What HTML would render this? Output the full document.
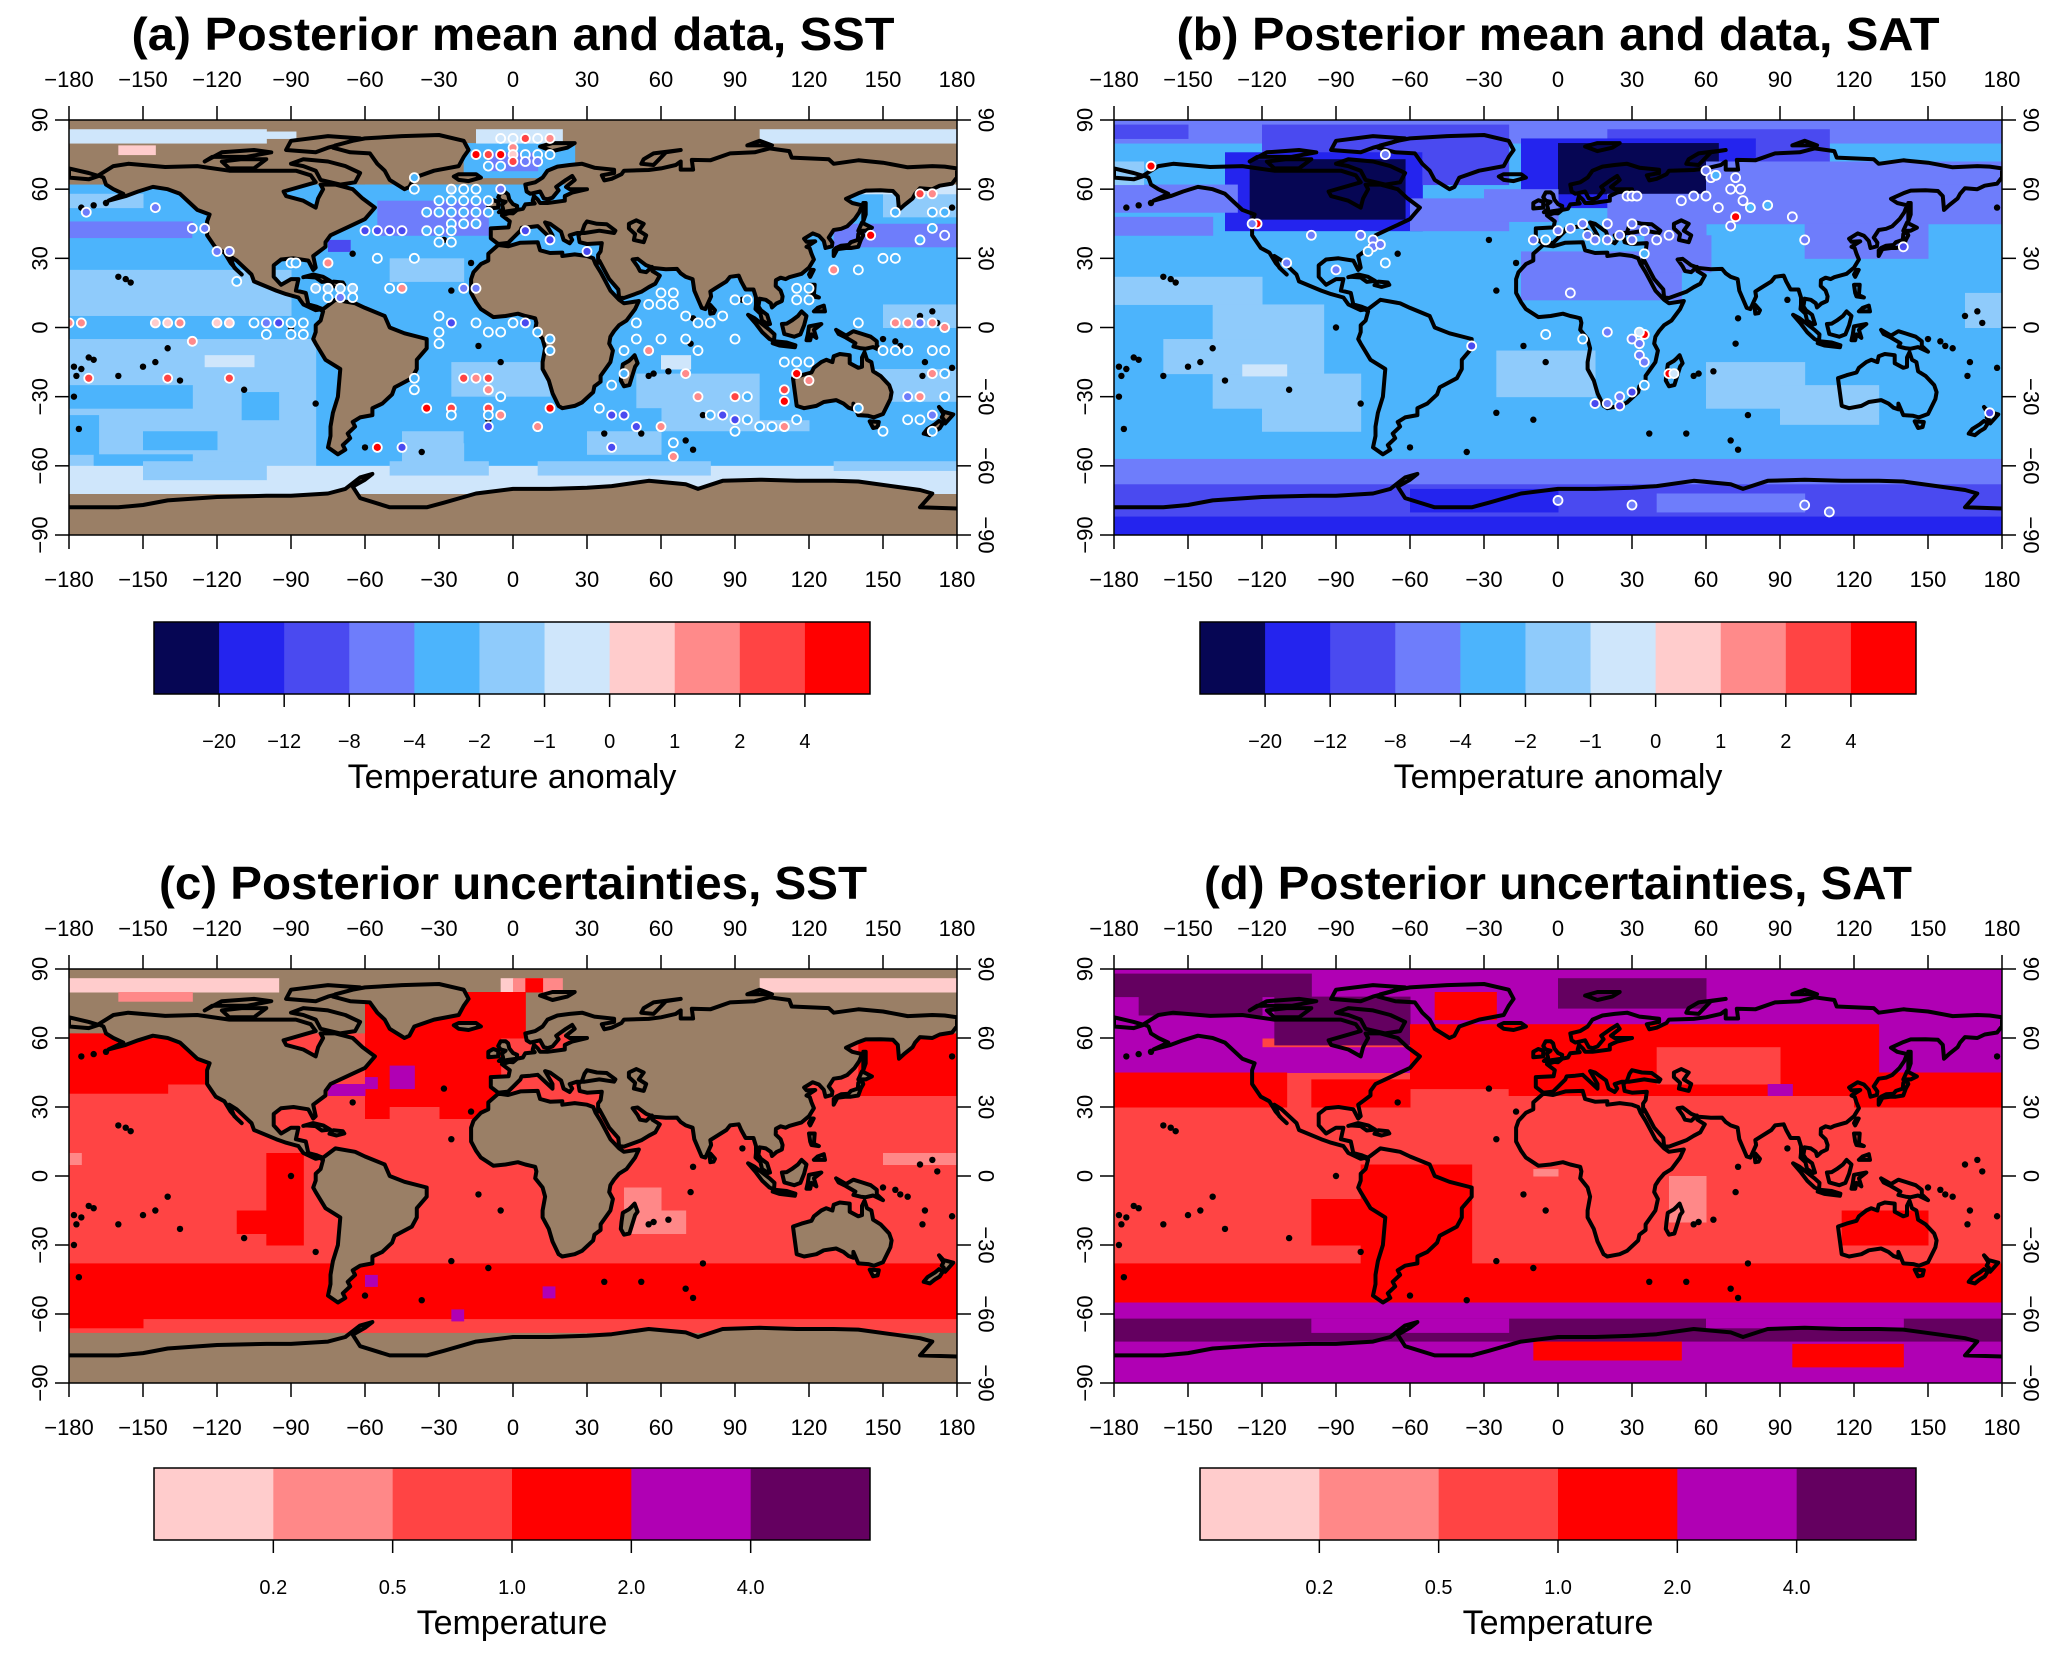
<!DOCTYPE html>
<html>
<head>
<meta charset="utf-8">
<style>
html,body{margin:0;padding:0;background:#fff;}
svg{display:block;}
text{font-family:"Liberation Sans",Arial,sans-serif;fill:#000;}
</style>
</head>
<body>
<svg id="fig" xmlns="http://www.w3.org/2000/svg" width="2067" height="1657" viewBox="0 0 2067 1657"></svg>
<script>
// ---------- axis tick data ----------
const lonTicks = [-180,-150,-120,-90,-60,-30,0,30,60,90,120,150,180];
const latTicks = [-90,-60,-30,0,30,60,90];
const anomLabels = ["−20","−12","−8","−4","−2","−1","0","1","2","4"];
const uncLabels = ["0.2","0.5","1.0","2.0","4.0"];

// ---------- field data: [lon0, lon1, latTop, latBot, class]  ('L' = land/no data) ----------
const fieldA = [
[-180,180,90,-90,'L'],[-180,180,62,-68,4],
[-180,-100,86,80,6],[-100,-88,85,82,6],[100,180,86,80,6],[-160,-145,79,75,7],
[-20,25,80,65,4],[-10,10,76,68,3],[-15,20,86,80,6],
[-180,-150,58,52,5],[-180,-130,46,39,3],[-130,-120,45,38,4],[-180,-140,32,25,4],
[-180,-90,25,5,5],[-180,-80,5,-5,4],[-180,-80,-5,-60,5],[-125,-105,-12,-17,6],
[-180,-130,-25,-35,4],[-180,-168,-38,-55,4],[-150,-120,-45,-53,4],[-110,-95,-28,-40,4],[-170,-130,-55,-60,4],
[-180,180,-60,-72,6],[-150,-100,-58,-66,5],[-50,-10,-58,-64,5],[10,80,-58,-64,5],[130,180,-58,-62,5],
[-60,-5,62,25,4],[-55,-10,55,40,3],[-75,-66,38,33,2],[-50,-20,30,20,5],
[-40,20,5,-15,4],[-25,15,-15,-30,5],[-55,20,-30,-45,4],[-45,-20,-45,-58,5],[-20,20,-42,-50,4],
[30,120,25,-20,4],[50,120,-20,-45,5],[60,72,-12,-18,6],[60,130,-45,-55,4],[25,60,-35,-45,4],[30,60,-45,-55,5],
[100,180,30,-40,4],[150,180,10,0,5],[125,180,-18,-32,5],[130,180,45,35,3],[150,180,58,48,5],[140,180,62,58,6]
];
const fieldB = [
[-180,180,90,-90,4],[-180,180,90,80,3],
[-120,-20,88,76,2],[20,110,86,68,2],[-180,-150,88,82,2],
[-135,-55,76,42,1],[-125,-62,73,47,0],[-55,-20,82,62,2],
[-15,80,82,52,1],[0,65,80,58,0],
[60,180,72,45,3],[20,60,58,40,3],[100,150,45,30,3],
[-180,-130,62,50,3],[140,180,62,50,3],[-180,-168,72,62,5],
[-60,-20,56,42,3],[-30,0,60,46,3],[-15,50,33,12,3],[35,62,40,24,3],
[-180,-140,48,40,3],[-180,-120,22,10,5],[-140,-95,10,-35,5],[-120,-80,-20,-45,5],[-160,-120,-5,-20,5],[-128,-110,-16,-21,6],
[-25,15,-10,-30,5],[60,100,-15,-35,5],[90,130,-25,-42,5],[165,180,15,0,5],
[-180,180,-57,-70,3],[-180,180,-68,-90,2],[-180,180,-82,-90,1],[-60,0,-70,-80,1],[40,100,-72,-80,3]
];
const fieldC = [
[-180,180,90,-90,'L'],[-180,180,62,-68,2],
[-180,-95,86,80,0],[100,180,86,80,0],[-160,-130,80,76,1],[-5,0,86,80,0],[0,20,86,80,1],[5,12,86,80,3],
[-180,-120,62,40,3],[-180,-140,40,36,3],[140,180,62,35,3],
[-60,-5,75,25,3],[-20,5,80,60,3],[-50,-30,30,22,2],
[-75,-60,40,35,4],[-50,-40,48,38,4],[-60,-55,43,38,4],
[-100,-85,10,-30,3],[-112,-100,-15,-25,3],
[-180,180,-38,-62,3],[-180,-150,-60,-66,3],[-60,-55,-43,-48,4],[-25,-20,-58,-63,4],[12,17,-48,-53,4],
[45,60,-5,-25,1],[55,70,-15,-25,1],[150,180,10,5,1],[-180,-175,10,5,1]
];
const fieldD = [
[-180,180,90,-90,2],
[-180,180,90,60,4],[-180,-100,88,78,5],[-115,-60,78,57,5],[0,60,86,73,5],[-170,-120,78,70,5],
[-50,-25,80,68,3],
[-180,-120,62,45,4],[120,180,62,45,4],[-120,-50,56,45,4],
[-180,-110,45,30,3],[-100,-60,42,30,3],[-20,130,66,35,3],[-60,-20,66,38,3],[120,180,45,30,3],
[40,90,56,40,2],[85,95,40,35,4],
[-80,-35,5,-40,3],[-100,-75,-10,-30,3],[115,150,-15,-30,3],
[45,60,0,-20,1],[-10,0,3,0,1],
[-180,180,-38,-55,3],[-180,180,-55,-62,4],[-180,180,-62,-72,5],[-100,-20,-62,-68,4],[60,140,-62,-66,4],
[-180,180,-72,-90,4],[-10,50,-72,-80,3],[95,140,-73,-83,3]
];

// ---------- observation points: [lon, lat, class] ----------
const ptsA = [
[-40,65,4],[-40,60,4],[-25,60,5],[-20,60,4],[-15,60,4],[-5,60,3],[-30,55,4],[-25,55,4],[-20,55,4],[-15,55,4],[-10,55,4],
[-35,50,4],[-30,50,4],[-25,50,4],[-20,50,4],[-15,50,4],[-10,50,4],[-25,45,4],[-20,45,4],[-15,45,4],
[-60,42,2],[-55,42,2],[-50,42,2],[-45,42,2],[-35,42,4],[-30,42,4],[-25,42,4],[5,42,2],[15,38,2],[30,33,2],[-30,37,4],[-25,37,4],
[-5,82,6],[0,82,6],[5,82,9],[10,82,6],[15,82,8],[0,78,8],[-5,75,10],[-10,75,9],[0,75,7],[5,75,4],[10,75,4],[15,75,4],[-15,75,10],[0,72,9],[5,72,3],[10,72,3],[-5,70,4],[-10,70,4],
[-173,50,3],[-145,52,3],[-125,43,3],[-130,43,3],[-120,33,3],[-115,33,3],[-112,20,4],
[-90,28,4],[-88,28,4],[-75,28,8],[-55,30,4],[-40,30,4],[-80,17,5],[-75,17,5],[-70,17,5],[-65,17,5],[-75,13,4],[-70,13,3],[-65,13,4],[-50,17,4],[-45,17,8],[-20,17,3],[-15,17,3],
[-180,2,8],[-175,2,8],[-145,2,7],[-140,2,7],[-135,2,8],[-120,2,7],[-115,2,7],[-105,2,4],[-100,2,3],[-95,2,2],[-90,2,4],[-85,2,4],[-100,-3,4],[-90,-3,4],[-85,-3,4],[-130,-6,8],[-140,-22,9],[-115,-22,9],[-172,-22,9],
[-30,5,4],[-30,-2,4],[-30,-7,4],[-25,2,2],[-15,2,4],[-10,-2,4],[-5,-2,4],[0,2,4],[5,2,2],[10,-2,4],[15,-5,4],[15,-10,4],
[-40,-22,4],[-40,-27,4],[-20,-22,9],[-15,-22,8],[-10,-22,9],[-10,-27,8],[-5,-30,4],[-10,-35,9],[-25,-35,9],[-35,-35,10],[-25,-38,4],[-5,-38,8],[-10,-38,4],[10,-43,8],[15,-35,10],[-10,-43,2],[-55,-52,10],[-45,-52,2],
[45,-10,4],[50,-5,4],[50,2,4],[55,10,4],[60,10,4],[65,10,4],[60,15,4],[65,15,4],[70,5,4],[75,2,4],[80,2,4],[85,5,4],[90,12,4],[95,12,4],[90,-5,4],[60,-5,4],[70,-5,4],[75,-10,4],[55,-10,8],[70,-20,8],
[40,-25,4],[45,-20,4],[35,-35,4],[40,-38,2],[45,-38,2],[50,-43,2],[60,-43,8],[75,-30,8],[90,-30,9],[95,-30,4],[80,-38,4],[85,-38,2],[90,-40,2],[95,-40,4],[100,-43,4],[105,-43,4],[110,-43,8],[90,-45,4],[65,-50,4],[40,-52,2],[65,-56,8],
[115,12,4],[120,12,4],[115,17,4],[120,17,4],[130,25,8],[140,25,4],[150,30,4],[155,30,4],[145,40,10],[155,50,4],[170,50,4],[175,50,4],[165,58,9],[170,58,8],[175,40,3],[170,43,4],[165,38,4],
[140,2,4],[155,2,8],[160,2,8],[165,2,3],[170,2,8],[175,0,8],[150,-10,4],[155,-10,4],[160,-10,4],[170,-10,4],[175,-10,4],
[110,-15,4],[115,-15,4],[120,-15,4],[110,-27,9],[110,-32,10],[115,-40,4],[140,-35,4],[150,-45,4],[160,-40,4],[165,-40,4],[170,-45,4],[165,-30,8],[160,-30,3],[175,-30,4],[170,-38,3],[175,-20,4],[170,-20,8],[120,-23,8],[115,-20,10]
];
const ptsB = [
[-165,70,10],[-122,45,10],[-124,45,3],[-80,40,3],[-75,38,3],[-75,35,3],[-77,33,4],[-72,36,3],[-100,40,3],[-110,28,3],[-90,25,3],[-70,28,4],[-70,75,3],
[-10,38,3],[-5,38,4],[0,42,3],[5,43,3],[10,45,3],[12,40,3],[15,38,3],[20,38,3],[25,40,3],[30,45,3],[35,42,3],[30,38,3],[35,32,4],[40,38,3],[20,45,3],[45,40,3],
[28,57,3],[30,57,3],[32,57,3],[50,55,3],[55,57,3],[60,57,3],[65,52,3],[70,60,3],[74,60,3],[72,65,3],[60,68,3],[62,65,3],[64,66,4],[75,55,3],[78,52,4],[72,48,10],[70,44,3],[85,53,4],[95,48,3],[100,38,3],[140,35,2],
[5,15,3],[-5,-3,4],[10,-5,4],[20,-2,3],[30,-5,3],[35,-3,10],[33,-2,6],[33,-7,3],[33,-12,3],[35,-15,3],
[15,-33,2],[20,-33,3],[25,-34,2],[25,-30,3],[30,-28,2],[35,-25,4],[45,-20,10],[47,-20,6],[-35,-8,2],
[0,-75,3],[30,-77,3],[100,-77,3],[110,-80,3],[175,-37,2]
];
const islands = [
[-157,21],[-155,19.5],[-160,22],[-150,-17],[-145,-15],[-140,-9],[-135,-23],[-160,-21],[-170,-14],[-175,-18],[-178,-17],[178,-17.5],
[167,-15],[166,-21],[160,-9],[157,-8],[155,-6],[150,-5],[165,5],[170,7],[172,2],[-177,-21],[-172,-13],[-109,-27],[-80,-33],[-90,0],
[-25,-37],[-14,-8],[-5,-15],[-10,-40],[-25,16],[-17,28],[-28,38],[-65,32],[37,-46],[52,-46],[70,-49],[73,-53],[77,-38],[55,-21],
[57,-20],[63,-19],[72,-7],[73,4],[93,12],[-175,52],[-170,53],[-165,54],[178,52],[-178,-30],[-176,-44],[-60,-52],[-37,-54]
];

// ---------- coastlines [lon,lat] ----------
const coasts = {
namerica:[[-168,66],[-162,70],[-156,71],[-141,69.6],[-128,70],[-115,68],[-95,68],[-88,68],[-82,66],[-80,63],[-93,59],[-92,57],[-85,55],[-80,52],[-79,56],[-77,60],[-78,62],[-72,62],[-65,60],[-61,56],[-56,52],[-60,47],[-66,44],[-70,42],[-74,40],[-76,37],[-76,35],[-81,31],[-80,26],[-81,25],[-83,29],[-89,30],[-94,29.5],[-97,27],[-97,22],[-94,18.5],[-90,21],[-87,21],[-88,16],[-84,15],[-83,10],[-79.5,9],[-77.5,8],[-80,7.5],[-85,10],[-87,13],[-92,14.5],[-96,16],[-105,20],[-106,23],[-112,29],[-115,31],[-113,26],[-110,23],[-112,25],[-114.5,28],[-117,32.5],[-120.5,34.5],[-124,40],[-124,46],[-123,49],[-128,51],[-131,54],[-135,58],[-140,60],[-146,61],[-152,59],[-157,57],[-164,55],[-158,58],[-162,60],[-165,62],[-166,65]],
baffin:[[-62,67],[-68,70],[-75,72],[-85,73],[-90,71],[-85,70],[-80,68],[-78,64],[-70,62],[-64,63]],
victoria:[[-118,72],[-110,73],[-100,73],[-105,69],[-115,69]],
parry:[[-125,72],[-118,76],[-105,77],[-98,76],[-108,74],[-122,74]],
ellesmere:[[-92,77],[-80,76],[-75,78],[-68,80],[-62,82],[-75,83],[-90,81]],
greenland:[[-73,78],[-66,76],[-58,75.5],[-55,71],[-52,68],[-50,64],[-44,60],[-42,61],[-40,65],[-32,68],[-22,70],[-20,74],[-18,77],[-20,81],[-30,83.5],[-45,83],[-60,82],[-65,81],[-72,79]],
iceland:[[-24,65.5],[-22,66.5],[-15,66.5],[-13,65],[-18,63.5],[-22,64]],
samerica:[[-80,9],[-77,8],[-72,12],[-64,10.5],[-60,8.5],[-52,5],[-50,0],[-44,-2.5],[-35,-5],[-35,-9],[-39,-14],[-39,-18],[-41,-22],[-48,-26],[-49,-29],[-53,-33],[-57,-35],[-57,-38],[-62,-39],[-65,-41],[-64,-43],[-67,-46],[-66,-48],[-69,-51],[-68,-53],[-71,-55],[-75,-52],[-74,-47],[-74,-43],[-73,-37],[-71,-30],[-70,-18],[-76,-14],[-80,-7],[-81,-5],[-80,-2],[-80,1],[-78,3],[-77,7]],
africa:[[-6,35.8],[-10,32],[-10,29],[-13,27.5],[-16,24],[-17,21],[-17,15],[-15,11],[-13,8],[-8,4.5],[-3,5],[2,6],[5,5],[7,4.5],[9,4],[9.5,2],[9,-1],[12,-5],[13,-9],[12,-15],[12,-18],[14.5,-23],[16,-28.5],[18.5,-34],[20,-35],[25,-34],[28,-32.5],[32.5,-28],[33,-25.5],[35.5,-23.5],[35.5,-21],[39.5,-15],[40.5,-10],[39,-7],[39.5,-4],[41,-1.5],[43,1],[46,3],[49.5,8],[51,11.5],[45,10.5],[43,12],[39.5,16],[37,21],[35.5,24],[33.5,27.5],[32.5,30],[30,31],[25,31.7],[20,31],[20,32.5],[15,32.3],[11,33.5],[10,37],[3,36.8],[-2,35.2]],
eurasia:[[-9,43],[-9,38.7],[-6,36.2],[-2,36.7],[0,38.8],[3,42],[3.5,43.3],[7,43.6],[10,44],[12.5,41.5],[16,38],[16,40],[13,45.6],[15,45],[19.5,41.5],[20.5,38],[23,36.5],[24,38],[23,40],[26,41],[29,41],[35,42],[41,41],[41.5,42],[38,44.8],[34,45],[30,46],[29,44.5],[28,41.5],[26.5,40],[27,37],[30,36.2],[36,36.6],[35.5,33],[34.5,31.5],[34.5,28],[35,29],[37,25],[39,21],[42.7,16.5],[43,13],[45,12.8],[52,15.5],[55,17.5],[57.7,19],[59.5,22.5],[56.5,24.5],[56.3,26.3],[54,24],[51.5,24.5],[50.5,26.5],[48.5,29.5],[50.5,29.8],[54,27],[57,25.8],[62,25.3],[66.5,25.4],[68,23.5],[70,22],[72.8,21],[73.5,16],[76.5,8.5],[78,8],[80.3,13.5],[80,15.6],[82,17],[86.5,20],[88,22],[91.5,22.5],[92.5,20],[94.3,16.5],[97.5,16.5],[98.5,13],[98.5,10],[98.3,8],[100.3,6],[101,3],[103.5,1.3],[104.2,1.5],[103,5.5],[100.5,7.5],[99.5,9.2],[100,12.5],[102.5,12],[104.5,10.5],[105,8.7],[106.8,10.4],[109,11.5],[109.3,13.5],[108.5,16],[106.5,18],[106.6,20.5],[108.5,21.6],[110.5,21],[112,21.8],[117,23.3],[120,26],[122,29.5],[121,32],[120.3,34.4],[119,35],[122.5,37.4],[119,37.2],[118,38.5],[121.5,40.8],[124,39.8],[126,37.5],[126.7,34.5],[129.3,35.2],[129.5,36.8],[128,39],[130,42.3],[133,42.8],[135.5,43.9],[138.5,47],[140.4,50],[141.5,53],[137.5,54],[135,55.8],[140,58.2],[143,59.4],[149,59.5],[154,59.2],[156,57],[156.5,51],[158.5,53],[162,56],[163,58],[165,60.4],[170,60],[173,61.5],[178,62.4],[179.5,64.5],[180,65],[180,69],[175,69.8],[170,70],[160,69.5],[150,71.5],[140,72.5],[130,71],[128,73],[113,73.7],[112,76.5],[104,77.7],[98,76],[88,75.5],[80,72.5],[72.5,72.7],[73,68.5],[68,68.5],[68,72],[66,70.5],[60,69],[55,68.3],[45,68],[44,66.5],[40,64.5],[37,63.8],[36,66],[41,67],[41,68.4],[33,69.3],[28,71],[23,70.5],[18,69.8],[14,68],[12,65],[9,63],[5,62],[5.5,59],[7,58],[11,59],[12.5,56],[14,55.6],[16,56.3],[18.5,59.5],[17.5,61],[21.5,64],[24,65.7],[25,64],[21.5,61],[23,60],[30,60],[24,58.5],[21,57],[21,55],[14,54],[11,54],[10,55.5],[8.5,57],[8,55],[8.8,53.8],[5,53.4],[4,51.5],[1.7,51],[0,49.5],[-1.5,49.6],[-4.5,48.6],[-1.3,46],[-1.8,43.4]],
caspian:[[47,45],[50,46.5],[53,45],[51,42],[54,40],[53,37],[49,38],[49.5,40.5],[47,43]],
chukotka:[[-180,65],[-172,64.3],[-168,65.7],[-172,67],[-180,69]],
britain:[[-5,50],[1.5,51],[1.7,52.7],[0,53.5],[-1.5,55.5],[-2,57.7],[-3,58.6],[-5,58.6],[-6,56.5],[-5,55],[-3,54.5],[-4.5,53.3],[-4,51.5],[-5.7,50]],
ireland:[[-6,52],[-6,54.5],[-8,55.2],[-10,54],[-10,51.6]],
japan:[[130,31],[131.5,34],[135,34.5],[137,34.5],[140,35],[141,38],[142,40],[141.5,41.5],[140,40.5],[139.8,38],[137,37],[136,35.8],[133,35.5],[131,34.5],[130,33.5]],
hokkaido:[[140,42],[141.5,45.5],[145.5,43.3],[143,42]],
sakhalin:[[142,46],[143,49],[143,54],[142,54],[142,50]],
taiwan:[[120.5,22],[121.9,25],[121,25],[120,23]],
luzon:[[120,18.5],[122.3,18.5],[122,14],[124,13],[121,13.5],[120.5,15]],
mindanao:[[122,7],[126.5,7],[126,9.5],[123.5,8.5]],
borneo:[[109,1.5],[110,-2.8],[114,-4],[116.5,-3],[118,1],[119,5],[117,7],[115.5,5],[113,3],[111,1.7]],
sumatra:[[95.3,5.5],[98,4],[104,-1],[106,-3],[105.8,-5.9],[104,-5],[101,-2],[98.5,1.5]],
java:[[105.3,-6.8],[106,-6],[111,-6.5],[114.5,-7.7],[114.3,-8.6],[108,-7.8]],
sulawesi:[[119,-5.5],[120.5,-5.5],[121,-3],[123,-4.5],[122,-1],[125,1.5],[120,0.5],[119.5,-3]],
newguinea:[[131,-1],[135,-3.5],[138,-1.6],[141,-2.6],[145,-4],[147.5,-6],[147.5,-8],[150,-10.5],[146,-8.5],[143,-9.2],[141,-9],[138,-8.2],[138.8,-6.8],[135,-4.4],[132,-2.8]],
australia:[[113.5,-22],[114,-26],[115,-34],[118,-35],[123,-34],[126,-32.3],[131,-31.5],[134,-33],[136,-34.8],[138,-35.5],[138,-33],[140,-38],[144,-38.3],[146.3,-39],[150,-37.5],[153,-31],[153.5,-28],[152.5,-25],[149,-21],[146,-19],[145.3,-15],[143.5,-14],[142.5,-10.7],[141.5,-13],[141.5,-17],[140,-17.5],[136.5,-15.5],[136.5,-12],[132.5,-11.5],[130,-12.5],[129.5,-15],[127,-14],[125,-15],[122,-17.5],[121,-19.5],[117,-20.7],[114,-21.8]],
tasmania:[[144.6,-40.7],[148.3,-41],[147.8,-43.2],[146,-43.6]],
nznorth:[[172.7,-34.5],[174.5,-36.5],[178.5,-37.7],[177,-39.5],[175.2,-41.6],[174.6,-39.8],[173.8,-39],[174.5,-37.5]],
nzsouth:[[172.7,-40.5],[174.3,-41.5],[173,-43.7],[171,-45],[169,-46.7],[166.5,-46],[168,-44],[171,-42]],
madagascar:[[49.3,-12],[50.5,-15.5],[49.5,-17],[47.2,-25],[45,-25.5],[43.7,-23],[44,-20],[44.5,-16],[47,-14.5],[48,-13.5]],
srilanka:[[80,9.8],[81.9,7.5],[81.3,6.2],[80,6],[79.8,8]],
cuba:[[-85,21.8],[-81,23],[-77,22],[-74.2,20.2],[-77.5,19.8],[-80,21.7],[-84,22]],
hispaniola:[[-74.4,18.4],[-72.8,19.9],[-69,19.5],[-68.4,18.5],[-71.5,17.6]],
svalbard:[[11,78.5],[16,80],[25,80],[22,78],[16,76.5]],
novayazemlya:[[52,71],[57,70.5],[62,76],[68,77],[57,75.5],[53,73]],
severnaya:[[95,79],[100,81],[105,79]],
antarctica:[[-180,-78],[-160,-78],[-150,-77],[-140,-75],[-120,-73.5],[-100,-73],[-90,-73],[-75,-72],[-68,-70],[-62,-65],[-57,-63.5],[-60,-66],[-65,-69],[-62,-74],[-50,-78],[-35,-78],[-28,-76],[-15,-72],[0,-70],[15,-70],[30,-69.5],[40,-68.8],[55,-66.5],[70,-68],[75,-70],[85,-66.5],[100,-66],[115,-66.5],[130,-66.5],[140,-66.8],[155,-69],[165,-70.5],[170,-72],[165,-78],[180,-78.5]]
};

// ---------- styles ----------
const anomPal = ["#060654","#2424ee","#4a4af0","#6e7dfb","#4cb4fc","#8fcbfb","#cfe6fb","#ffcccc","#ff8a8a","#ff4444","#ff0000"];
const uncPal = ["#ffcccc","#ff8888","#ff4444","#ff0000","#b000b4","#640060"];
const LAND = "#9a7f66";

const panels = [
 {key:"a", x0:69,  x1:957,  y0:120, y1:535, field:fieldA, pal:anomPal, sst:true,  pts:ptsA, title:"(a) Posterior mean and data, SST", tw:763},
 {key:"b", x0:1114,x1:2002, y0:120, y1:535, field:fieldB, pal:anomPal, sst:false, pts:ptsB, title:"(b) Posterior mean and data, SAT", tw:763},
 {key:"c", x0:69,  x1:957,  y0:969, y1:1383,field:fieldC, pal:uncPal,  sst:true,  pts:[],   title:"(c) Posterior uncertainties, SST", tw:708},
 {key:"d", x0:1114,x1:2002, y0:969, y1:1383,field:fieldD, pal:uncPal,  sst:false, pts:[],   title:"(d) Posterior uncertainties, SAT", tw:708}
];
const bars = [
 {key:"a", x0:154, x1:870,  y0:622, y1:694, pal:anomPal, labels:anomLabels, name:"Temperature anomaly"},
 {key:"b", x0:1200,x1:1916, y0:622, y1:694, pal:anomPal, labels:anomLabels, name:"Temperature anomaly"},
 {key:"c", x0:154, x1:870,  y0:1468,y1:1540,pal:uncPal,  labels:uncLabels,  name:"Temperature"},
 {key:"d", x0:1200,x1:1916, y0:1468,y1:1540,pal:uncPal,  labels:uncLabels,  name:"Temperature"}
];

const NS = "http://www.w3.org/2000/svg";
const svg = document.getElementById("fig");
function mk(tag, attrs, parent){
  const e = document.createElementNS(NS, tag);
  for (const k in attrs) e.setAttribute(k, attrs[k]);
  (parent||svg).appendChild(e);
  return e;
}
const defs = mk("defs", {});

panels.forEach(p => {
  const xs = lon => p.x0 + (lon + 180) / 360 * (p.x1 - p.x0);
  const ys = lat => p.y0 + (90 - lat) / 180 * (p.y1 - p.y0);
  const g = mk("g", {});
  
  

  const cp = mk("clipPath", {id: "clip" + p.key}, defs);
  mk("rect", {x:p.x0, y:p.y0, width:p.x1-p.x0, height:p.y1-p.y0}, cp);
  const inner = mk("g", {"clip-path": "url(#clip" + p.key + ")"}, g);

  // field cells
  p.field.forEach(c => {
    const r = mk("rect", {
      x: xs(c[0]), y: ys(c[2]), width: xs(c[1]) - xs(c[0]) + 0.5, height: ys(c[3]) - ys(c[2]) + 0.5,
      fill: c[4] === 'L' ? LAND : p.pal[c[4]]
    }, inner);
    
    
  });

  // land / coastlines
  const pathOf = (pts, close) => pts.map((q,i) => (i ? "L" : "M") + xs(q[0]).toFixed(1) + "," + ys(q[1]).toFixed(1)).join("") + (close ? "Z" : "");
  for (const name in coasts) {
    const pts = coasts[name];
    if (name === "antarctica") {
      if (p.sst) mk("path", {d: pathOf(pts.concat([[180,-90],[-180,-90]]), true), fill: LAND, stroke: "none"}, inner);
      const a = mk("path", {d: pathOf(pts, false), fill: "none", stroke: "#000", "stroke-width": 4, "stroke-linejoin": "round"}, inner);
      
      
      continue;
    }
    const isLake = name === "caspian";
    const e = mk("path", {d: pathOf(pts, true), fill: p.sst ? LAND : "none", stroke: "#000", "stroke-width": 4, "stroke-linejoin": "round"}, inner);
    
    
    if (isLake && !p.sst) e.setAttribute("fill", "none");
  }
  islands.forEach(q => {
    const d = mk("circle", {cx: xs(q[0]), cy: ys(q[1]), r: 3.2, fill: "#000"}, inner);
    
    
  });

  // observation points
  p.pts.forEach(q => {
    const c = mk("circle", {cx: xs(q[0]), cy: ys(q[1]), r: 4.5, fill: p.pal[q[2]], stroke: "#fff", "stroke-width": 1.8}, inner);
    
    
  });

  // frame
  const fr = mk("rect", {x:p.x0, y:p.y0, width:p.x1-p.x0, height:p.y1-p.y0, fill:"none", stroke:"#000", "stroke-width":1.5}, g);
  
  

  // lon ticks
  lonTicks.forEach(t => {
    const x = xs(t);
    mk("line", {x1:x, y1:p.y0, x2:x, y2:p.y0-14, stroke:"#000", "stroke-width":1.5}, g);
    mk("line", {x1:x, y1:p.y1, x2:x, y2:p.y1+14, stroke:"#000", "stroke-width":1.5}, g);
    const lbl = (t < 0 ? "−" + (-t) : "" + t);
    const tt = mk("text", {x:x, y:p.y0-33, "text-anchor":"middle", "font-size":22}, g);
    tt.textContent = lbl;
    
    
    const tb = mk("text", {x:x, y:p.y1+52, "text-anchor":"middle", "font-size":22}, g);
    tb.textContent = lbl;
    
    
  });
  // lat ticks
  latTicks.forEach(t => {
    const y = ys(t);
    mk("line", {x1:p.x0, y1:y, x2:p.x0-14, y2:y, stroke:"#000", "stroke-width":1.5}, g);
    mk("line", {x1:p.x1, y1:y, x2:p.x1+14, y2:y, stroke:"#000", "stroke-width":1.5}, g);
    const lbl = (t < 0 ? "−" + (-t) : "" + t);
    const lx = p.x0 - 29, rx = p.x1 + 29;
    const tl = mk("text", {x:lx, y:y, "text-anchor":"middle", "dominant-baseline":"central", "font-size":22, transform:"rotate(-90 " + lx + " " + y + ")"}, g);
    tl.textContent = lbl;
    
    
    const tr = mk("text", {x:rx, y:y, "text-anchor":"middle", "dominant-baseline":"central", "font-size":22, transform:"rotate(90 " + rx + " " + y + ")"}, g);
    tr.textContent = lbl;
    
    
  });

  // title
  const ti = mk("text", {x:(p.x0+p.x1)/2, y:p.y0-70, "text-anchor":"middle", "font-size":46, "font-weight":"bold", textLength:p.tw, lengthAdjust:"spacingAndGlyphs"}, g);
  ti.textContent = p.title;
  
  
});

// colour bars
bars.forEach(b => {
  const g = mk("g", {});
  
  
  const n = b.pal.length, w = (b.x1 - b.x0) / n;
  b.pal.forEach((col, i) => {
    const r = mk("rect", {x: b.x0 + i*w, y: b.y0, width: w + 0.5, height: b.y1 - b.y0, fill: col}, g);
    
    
  });
  mk("rect", {x:b.x0, y:b.y0, width:b.x1-b.x0, height:b.y1-b.y0, fill:"none", stroke:"#000", "stroke-width":1.5}, g);
  b.labels.forEach((l, i) => {
    const x = b.x0 + (i+1)*w;
    mk("line", {x1:x, y1:b.y1, x2:x, y2:b.y1+13, stroke:"#000", "stroke-width":1.5}, g);
    const t = mk("text", {x:x, y:b.y1+54, "text-anchor":"middle", "font-size":20}, g);
    t.textContent = l;
    
    
  });
  const tt = mk("text", {x:(b.x0+b.x1)/2, y:b.y1+94, "text-anchor":"middle", "font-size":34}, g);
  tt.textContent = b.name;
  
  
});
</script>
</body>
</html>
